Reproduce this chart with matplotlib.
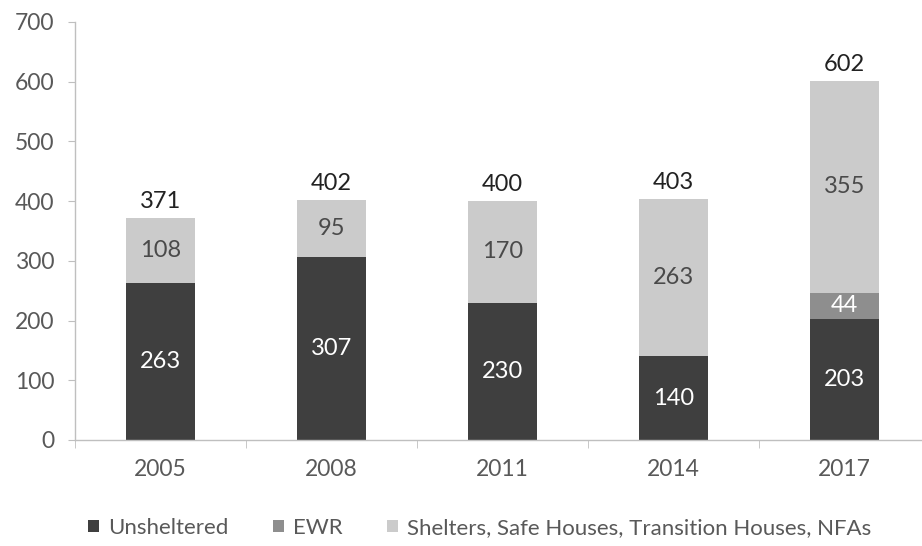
import numpy as np
import matplotlib
matplotlib.use("Agg")
import matplotlib.pyplot as plt

plt.rcParams['font.family'] = ['Lato', 'DejaVu Sans']

years = ['2005', '2008', '2011', '2014', '2017']
unsheltered = [263, 307, 230, 140, 203]
ewr = [0, 0, 0, 0, 44]
shelters = [108, 95, 170, 263, 355]
series_names = ['Unsheltered', 'EWR', 'Shelters, Safe Houses, Transition Houses, NFAs']

colors = ['#3f3f3f', '#8e8e8e', '#cbcbcb']
label_colors = ['white', 'white', '#4a4a4a']
axis_grey = '#bfbfbf'
tick_text = '#595959'

fig = plt.figure(figsize=(9.22, 5.46), dpi=100)
ax = fig.add_axes([75 / 922, 106 / 546, 855 / 922, 418 / 546])

x = np.arange(len(years))
bottom = np.zeros(len(years))
handles = []
for vals, col, lcol, name in zip([unsheltered, ewr, shelters], colors, label_colors, series_names):
    vals = np.array(vals)
    bars = ax.bar(x, vals, 0.4, bottom=bottom, color=col, label=name, zorder=2)
    handles.append(bars)
    for xi, v, b in zip(x, vals, bottom):
        if v > 0:
            ax.text(xi, b + v / 2, str(v), ha='center', va='center',
                    fontsize=17, color=lcol, zorder=3)
    bottom = bottom + vals

for xi, tot in zip(x, bottom):
    ax.text(xi, tot + 10, str(int(tot)), ha='center', va='bottom',
            fontsize=17, color='#222222')

ax.set_xlim(-0.5, len(years) - 0.5)
ax.set_ylim(0, 700)
ax.set_yticks(range(0, 701, 100))
ax.set_xticks(x)
ax.set_xticklabels(years)
ax.set_xticks(np.arange(-0.5, len(years), 1), minor=True)

for s in ['top', 'right']:
    ax.spines[s].set_visible(False)
for s in ['left', 'bottom']:
    ax.spines[s].set_color(axis_grey)
    ax.spines[s].set_linewidth(1.0)

ax.tick_params(axis='y', colors=axis_grey, labelcolor=tick_text, labelsize=16.5,
               length=5, direction='out', pad=10)
ax.tick_params(axis='x', which='major', length=0, labelcolor=tick_text,
               labelsize=16.5, pad=14)
ax.tick_params(axis='x', which='minor', length=6, color=axis_grey, direction='out')

fig.legend(handles=handles, labels=series_names, loc='center',
           bbox_to_anchor=(0.52, 1 - 528 / 546), ncol=3, frameon=False,
           fontsize=16, handlelength=0.5, handleheight=0.5, columnspacing=2.0,
           handletextpad=0.4, labelcolor=tick_text)

fig.savefig('out.png', dpi=100)
